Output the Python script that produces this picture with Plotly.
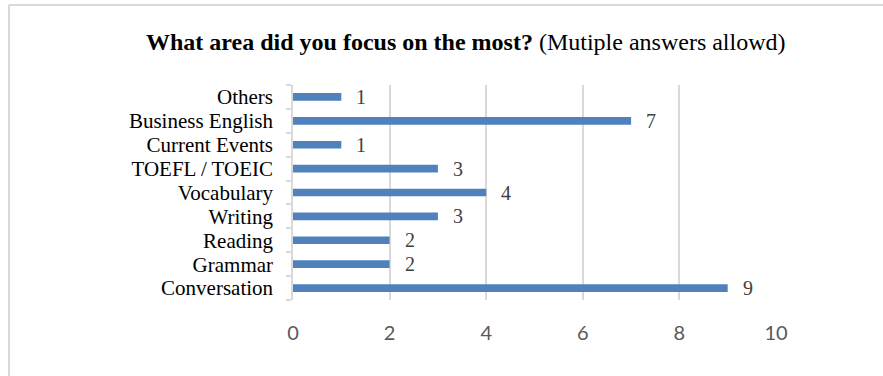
import plotly.graph_objects as go

categories = ["Conversation", "Grammar", "Reading", "Writing", "Vocabulary",
              "TOEFL / TOEIC", "Current Events", "Business English", "Others"]
values = [9, 2, 2, 3, 4, 3, 1, 7, 1]
x_ticks = [0, 2, 4, 6, 8, 10]

W, H = 883, 376
L, R, T, B = 293, 107, 85, 76
pw, ph = W - L - R, H - T - B

fig = go.Figure()
fig.add_trace(go.Bar(
    x=values, y=categories, orientation="h",
    marker=dict(color="#4F81BD", line=dict(width=0)),
    width=0.32, hoverinfo="skip",
))

for c, v in zip(categories, values):
    fig.add_annotation(x=v, y=c, xref="x", yref="y", text=str(v),
                       showarrow=False, xanchor="left", xshift=13,
                       font=dict(family="Liberation Serif", size=20, color="#404040"))

def px_x(p):
    return (p - L) / pw
def px_y(p):
    return (H - B - p) / ph

# chart-area border: only left and top edges fall inside the window
border = dict(color="#D9D9D9", width=2)
fig.add_shape(type="line", xref="paper", yref="paper",
              x0=px_x(9), x1=px_x(9), y0=px_y(H + 5), y1=px_y(5), line=border, layer="below")
fig.add_shape(type="line", xref="paper", yref="paper",
              x0=px_x(9), x1=px_x(W + 5), y0=px_y(5), y1=px_y(5), line=border, layer="below")

fig.add_annotation(
    xref="paper", yref="paper", x=px_x(466), y=px_y(42),
    text="<b>What area did you focus on the most?</b> (Mutiple answers allowd)",
    showarrow=False, xanchor="center", yanchor="middle",
    font=dict(family="Liberation Serif", size=24, color="#000000"))

fig.update_layout(
    width=W, height=H, margin=dict(l=L, r=R, t=T, b=B),
    paper_bgcolor="white", plot_bgcolor="white", showlegend=False,
    bargap=0.66,
)
fig.update_xaxes(range=[0, 10], tickvals=x_ticks, ticktext=[str(t) for t in x_ticks],
                 showgrid=True, gridcolor="#D9D9D9", gridwidth=1.5,
                 zeroline=False, showline=False, ticks="",
                 tickfont=dict(family="Lato", size=20, color="#595959"),
                 ticklabelstandoff=19)
fig.update_yaxes(categoryorder="array", categoryarray=categories,
                 tickmode="linear", tick0=0, dtick=1,
                 range=[-0.5, 8.5], showgrid=False, zeroline=False,
                 showline=True, linecolor="#D9D9D9", linewidth=1.5,
                 ticks="outside", tickson="boundaries", ticklen=5,
                 tickcolor="#D9D9D9", tickwidth=1.5,
                 tickfont=dict(family="Liberation Serif", size=21, color="#000000"),
                 ticklabelstandoff=14)

fig.write_html("out.html")
